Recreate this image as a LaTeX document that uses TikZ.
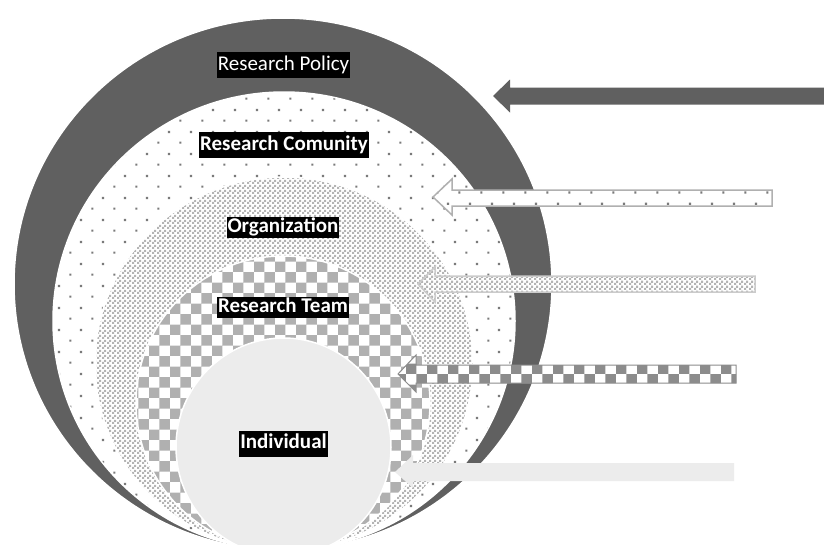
\documentclass[tikz,border=0pt]{standalone}
\usepackage{fontspec}
\setsansfont{Carlito}
\usepackage{tikz}
\usetikzlibrary{shapes.geometric, patterns}

\definecolor{policygray}{HTML}{606060}
\definecolor{dotgray}{HTML}{7A7A7A}
\definecolor{finegray}{HTML}{B4B4B4}
\definecolor{checkgray}{HTML}{B0B0B0}
\definecolor{teamgray}{HTML}{8C8C8C}
\definecolor{selfgray}{HTML}{ECECEC}

% fill patterns of the layers
\pgfdeclarepatternformonly{sparsedots}{\pgfpointorigin}{\pgfqpoint{21.6pt}{21.6pt}}{\pgfqpoint{21.6pt}{21.6pt}}{%
  \pgfpathrectangle{\pgfqpoint{4.4pt}{4.4pt}}{\pgfqpoint{2.2pt}{2.2pt}}%
  \pgfpathrectangle{\pgfqpoint{15.2pt}{15.2pt}}{\pgfqpoint{2.2pt}{2.2pt}}%
  \pgfusepath{fill}}
\pgfdeclarepatternformonly{finechecker}{\pgfpointorigin}{\pgfqpoint{4.6pt}{4.6pt}}{\pgfqpoint{4.6pt}{4.6pt}}{%
  \pgfpathrectangle{\pgfpointorigin}{\pgfqpoint{2.3pt}{2.3pt}}%
  \pgfpathrectangle{\pgfqpoint{2.3pt}{2.3pt}}{\pgfqpoint{2.3pt}{2.3pt}}%
  \pgfusepath{fill}}
\pgfdeclarepatternformonly{bigchecker}{\pgfpointorigin}{\pgfqpoint{21.4pt}{21.4pt}}{\pgfqpoint{21.4pt}{21.4pt}}{%
  \pgfpathrectangle{\pgfpointorigin}{\pgfqpoint{10.7pt}{10.7pt}}%
  \pgfpathrectangle{\pgfqpoint{10.7pt}{10.7pt}}{\pgfqpoint{10.7pt}{10.7pt}}%
  \pgfusepath{fill}}

\begin{document}
\begin{tikzpicture}[
        x=1pt, y=-1pt,
        every node/.style={font=\sffamily\fontsize{21}{25}\selectfont},
        layer/.style={ellipse, draw=white, line width=1.5pt, inner sep=0pt, outer sep=0pt},
        tag/.style={fill=black, text=white, inner xsep=1pt, inner ysep=3pt, text height=15pt, text depth=5pt},
        boldtag/.style={tag, font=\sffamily\bfseries\fontsize{21}{25}\selectfont},
        dotfill/.style={preaction={fill=white}, pattern=sparsedots, pattern color=dotgray},
        finefill/.style={preaction={fill=white}, pattern=finechecker, pattern color=finegray},
        checkfill/.style={preaction={fill=white}, pattern=bigchecker, pattern color=#1}
    ]

    \useasboundingbox (0,0) rectangle (824,544);
    \fill[white] (0,0) rectangle (824,544);

    % Layers
    \node[layer, fill=policygray, minimum width=538pt, minimum height=532pt] (policy) at (283,284) {};
    \node[layer, dotfill, minimum width=462pt, minimum height=458pt] (community) at (284,321) {};
    \node[layer, finefill, minimum width=378pt, minimum height=373pt] (organization) at (284,363.5) {};
    \node[layer, checkfill=checkgray, minimum width=294pt, minimum height=294pt] (team) at (283,403) {};
    \node[layer, fill=selfgray, minimum width=215pt, minimum height=218pt] (individual) at (283.5,447) {};

    % Labels
    \node[tag] (policylabel) at (283.5,65) {Research Policy};
    \node[boldtag] (communitylabel) at (284,145) {Research Comunity};
    \node[boldtag, inner ysep=0.5pt] (organizationlabel) at (283,227) {Organization};
    \node[boldtag, inner ysep=0.5pt] (teamlabel) at (283,307.5) {Research Team};
    \node[boldtag] (individuallabel) at (283.5,443.5) {Individual};

    % Arrows
    \fill[policygray] (493,96) -- (510,79.5) -- (510,87.5) -- (824,87.5) -- (824,104.5) -- (510,104.5) -- (510,112.5) -- cycle;
    \draw[dotfill, draw=checkgray, line width=1.5pt] (433,197) -- (452,179) -- (452,190) -- (772,190) -- (772,206) -- (452,206) -- (452,215) -- cycle;
    \draw[finefill, draw=finegray!70, line width=1.5pt] (418,284) -- (435,267) -- (435,276) -- (755,276) -- (755,292) -- (435,292) -- (435,302) -- cycle;
    \draw[checkfill=teamgray, draw=teamgray, line width=1pt] (398,374) -- (416,355) -- (416,365) -- (736,365) -- (736,383) -- (416,383) -- (416,392) -- cycle;
    \fill[selfgray] (395,472) -- (413,455) -- (413,463) -- (734,463) -- (734,481) -- (413,481) -- (413,488) -- cycle;

\end{tikzpicture}
\end{document}
